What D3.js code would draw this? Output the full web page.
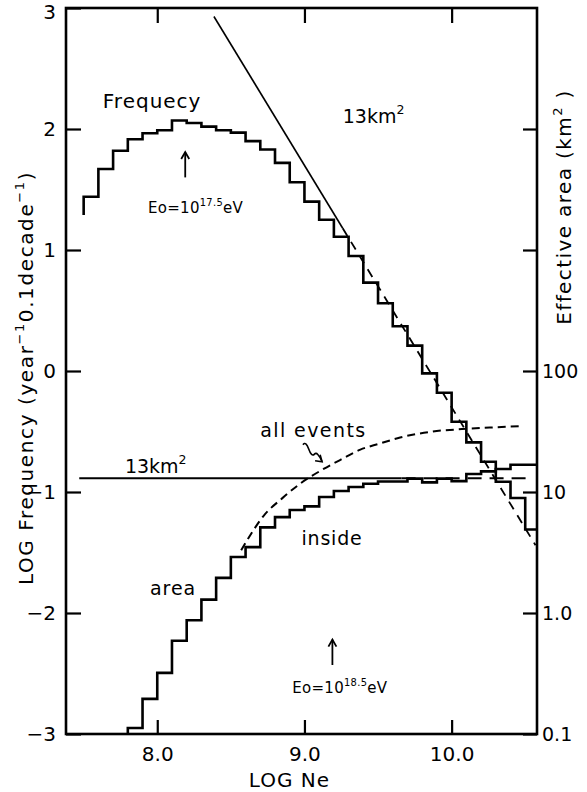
<!DOCTYPE html>
<html>
<head>
<meta charset="utf-8">
<script src="https://cdn.jsdelivr.net/npm/d3@7"></script>
<style>
  html, body { margin: 0; padding: 0; background: #fff; }
  svg { display: block; font-family: "DejaVu Sans", sans-serif; }
  .tick text { font-family: "DejaVu Sans", sans-serif; fill: #000; }
</style>
</head>
<body>
<div id="chart"></div>
<script>
const width = 587;
const height = 792;
const frame = { left: 66, right: 537, top: 8, bottom: 734 };

// LOG Ne bin starts (bin width 0.1) and LOG frequency per bin
const binWidth = 0.1;
const freqBins = [7.5, 7.6, 7.7, 7.8, 7.9, 8.0, 8.1, 8.2, 8.3, 8.4, 8.5, 8.6, 8.7, 8.8, 8.9, 9.0,
  9.1, 9.2, 9.3, 9.4, 9.5, 9.6, 9.7, 9.8, 9.9, 10.0, 10.1, 10.2, 10.3, 10.4, 10.5];
const freqLog = [1.44, 1.67, 1.82, 1.915, 1.965, 1.99, 2.07, 2.05, 2.02, 1.99, 1.97, 1.9, 1.83, 1.72, 1.56, 1.4,
  1.25, 1.11, 0.95, 0.73, 0.56, 0.37, 0.21, -0.02, -0.18, -0.42, -0.59, -0.75, -0.915, -1.05, -1.31];
const freqStartLog = 1.29;

// effective area (km^2) of events inside the array
const areaBins = [7.8, 7.9, 8.0, 8.1, 8.2, 8.3, 8.4, 8.5, 8.6, 8.7, 8.8, 8.9, 9.0, 9.1,
  9.2, 9.3, 9.4, 9.5, 9.6, 9.7, 9.8, 9.9, 10.0, 10.1, 10.2, 10.3, 10.4, 10.5];
const areaKm2 = [0.112, 0.195, 0.32, 0.59, 0.87, 1.29, 1.95, 2.9, 3.5, 5.1, 6.2, 7.1, 7.6, 9.1,
  10.2, 11.0, 11.7, 12.2, 12.2, 12.9, 12.0, 12.9, 12.3, 14.1, 14.8, 15.5, 16.8, 16.8];
const areaStartKm2 = 0.1;

// effective area for all events (dashed curve)
const allEventsNe = [8.57, 8.62, 8.72, 8.85, 8.97, 9.13, 9.25, 9.38, 9.51, 9.65, 9.87, 10.07, 10.3, 10.48];
const allEventsKm2 = [3.3, 4.17, 6.3, 8.9, 11.7, 15.5, 18.6, 22.4, 25.1, 28.2, 31.6, 33.1, 34.3, 35.1];

// power law line for 13 km^2 (solid part, then dashed extrapolation)
const powerSolid = [[8.385, 2.93], [9.26, 1.18]];
const powerDashed = [[9.26, 1.18], [10.57, -1.44]];

// 13 km^2 reference area
const flatArea = 13;
const flatSolidNe = [7.47, 9.66];
const flatDashedNe = [9.66, 10.55];

// axis ticks
const xTicks = [8, 9, 10];
const leftTicks = [-3, -2, -1, 0, 1, 2, 3];
const rightTicks = [0.1, 1, 10, 100, 1000, 10000];
const rightLabels = { 0.1: "0.1", 1: "1.0", 10: "10", 100: "100" };

const svg = d3.select("#chart").append("svg")
  .attr("width", width).attr("height", height)
  .attr("viewBox", `0 0 ${width} ${height}`);

const x = d3.scaleLinear().domain([7.38, 10.58]).range([frame.left, frame.right]);
const yL = d3.scaleLinear().domain([-3, 3]).range([frame.bottom, frame.top]);
const yR = d3.scaleLog().domain([0.1, 1e5]).range([frame.bottom, frame.top]);

svg.append("clipPath").attr("id", "plot-clip")
  .append("rect")
  .attr("x", frame.left).attr("y", frame.top)
  .attr("width", frame.right - frame.left).attr("height", frame.bottom - frame.top);

const plot = svg.append("g").attr("clip-path", "url(#plot-clip)");

function stepPoints(bins, values, startValue) {
  const end = Math.min(bins[bins.length - 1] + binWidth, x.domain()[1]);
  const pts = [[bins[0], startValue]];
  bins.forEach((b, i) => pts.push([b, values[i]]));
  pts.push([end, values[values.length - 1]]);
  return pts;
}

const stepLeft = d3.line().x(d => x(d[0])).y(d => yL(d[1])).curve(d3.curveStepAfter);
const stepRight = d3.line().x(d => x(d[0])).y(d => yR(d[1])).curve(d3.curveStepAfter);
const lineLeft = d3.line().x(d => x(d[0])).y(d => yL(d[1]));
const lineRight = d3.line().x(d => x(d[0])).y(d => yR(d[1]));

// frequency histogram
plot.append("path")
  .attr("d", stepLeft(stepPoints(freqBins, freqLog, freqStartLog)))
  .attr("fill", "none").attr("stroke", "#000").attr("stroke-width", 2.6)
  .attr("stroke-linejoin", "miter");

// area histogram (inside)
plot.append("path")
  .attr("d", stepRight(stepPoints(areaBins, areaKm2, areaStartKm2)))
  .attr("fill", "none").attr("stroke", "#000").attr("stroke-width", 2.6);

// power law
plot.append("path").attr("d", lineLeft(powerSolid))
  .attr("fill", "none").attr("stroke", "#000").attr("stroke-width", 1.6);
plot.append("path").attr("d", lineLeft(powerDashed))
  .attr("fill", "none").attr("stroke", "#000").attr("stroke-width", 1.8)
  .attr("stroke-dasharray", "9 7");

// 13 km^2 flat line
plot.append("path").attr("d", lineRight(flatSolidNe.map(n => [n, flatArea])))
  .attr("fill", "none").attr("stroke", "#000").attr("stroke-width", 2);
plot.append("path").attr("d", lineRight(flatDashedNe.map(n => [n, flatArea])))
  .attr("fill", "none").attr("stroke", "#000").attr("stroke-width", 2)
  .attr("stroke-dasharray", "14 8");

// all events curve
plot.append("path")
  .attr("d", lineRight.curve(d3.curveMonotoneX)(allEventsNe.map((n, i) => [n, allEventsKm2[i]])))
  .attr("fill", "none").attr("stroke", "#000").attr("stroke-width", 2)
  .attr("stroke-dasharray", "8 5");

// axes
const axisLeft = svg.append("g").attr("transform", `translate(${frame.left},0)`)
  .call(d3.axisLeft(yL).tickValues(leftTicks).tickSize(-15).tickPadding(10).tickFormat(d3.format("d")));
const axisRight = svg.append("g").attr("transform", `translate(${frame.right},0)`)
  .call(d3.axisRight(yR).tickValues(rightTicks).tickSize(-14).tickPadding(5)
    .tickFormat(d => rightLabels[d] || ""));
const axisBottom = svg.append("g").attr("transform", `translate(0,${frame.bottom})`)
  .call(d3.axisBottom(x).tickValues(xTicks).tickSize(-14).tickPadding(13).tickFormat(d3.format(".1f")));
const axisTop = svg.append("g").attr("transform", `translate(0,${frame.top})`)
  .call(d3.axisTop(x).tickValues(xTicks).tickSize(-15).tickFormat(""));

[axisLeft, axisRight, axisBottom, axisTop].forEach(g => {
  g.select(".domain").remove();
  g.selectAll(".tick line").attr("stroke", "#000").attr("stroke-width", 2.2);
  g.selectAll(".tick text").attr("font-size", 20);
});
axisRight.selectAll(".tick text").attr("font-size", 19);
// keep the top label inside the page
axisLeft.selectAll(".tick text").filter(d => d === 3).attr("dy", "0.5em");

svg.append("rect")
  .attr("x", frame.left).attr("y", frame.top)
  .attr("width", frame.right - frame.left).attr("height", frame.bottom - frame.top)
  .attr("fill", "none").attr("stroke", "#000").attr("stroke-width", 2.6);

// annotations
function label(ne, v, parts, size, spacing, anchor) {
  const t = svg.append("text")
    .attr("x", x(ne)).attr("y", yL(v))
    .attr("font-size", size).attr("letter-spacing", spacing)
    .attr("text-anchor", anchor || "start");
  parts.forEach(p => {
    const s = t.append("tspan").text(p.text);
    if (p.sup) s.attr("font-size", size * 0.66).attr("dy", -size * 0.45);
    if (p.down) s.attr("dy", size * 0.45);
  });
  return t;
}

function upArrow(ne, v0, v1) {
  const g = svg.append("g").attr("transform", `translate(${x(ne)},${yL(v1)})`);
  g.append("line").attr("x1", 0).attr("y1", 0).attr("x2", 0).attr("y2", yL(v0) - yL(v1))
    .attr("stroke", "#000").attr("stroke-width", 1.8);
  g.append("path").attr("d", "M-4,7 L0,0 L4,7")
    .attr("fill", "none").attr("stroke", "#000").attr("stroke-width", 1.8);
}

label(7.63, 2.17, [{ text: "Frequecy" }], 20, 1);
upArrow(8.19, 1.6, 1.81);
label(8.26, 1.306, [{ text: "Eo=10" }, { text: "17.5", sup: true }, { text: "eV", down: true }], 15, 0.3, "middle");

label(9.26, 2.05, [{ text: "13km" }, { text: "2", sup: true }], 19, 0);
label(7.78, -0.843, [{ text: "13km" }, { text: "2", sup: true }], 19, 0);
label(8.7, -0.545, [{ text: "all events" }], 19, 1.4);
label(8.98, -1.44, [{ text: "inside" }], 19, 0.8);
label(7.95, -1.85, [{ text: "area" }], 19, 1);

upArrow(9.19, -2.43, -2.22);
label(9.24, -2.66, [{ text: "Eo=10" }, { text: "18.5", sup: true }, { text: "eV", down: true }], 15, 0.3, "middle");

// wavy pointer to the all events curve
const squigStart = [x(8.99), yL(-0.61)];
const squigEnd = [x(9.12), yL(-0.75)];
const sx = squigEnd[0] - squigStart[0];
const sy = squigEnd[1] - squigStart[1];
const squig = svg.append("g").attr("transform", `translate(${squigStart[0]},${squigStart[1]})`);
squig.append("path")
  .attr("d", `M0,0 Q${sx * 0.15},${-4} ${sx * 0.3},${sy * 0.25} T${sx * 0.6},${sy * 0.55} T${sx},${sy}`)
  .attr("fill", "none").attr("stroke", "#000").attr("stroke-width", 1.6);
squig.append("path")
  .attr("d", `M${sx - 7},${sy - 1} L${sx},${sy} L${sx - 2},${sy - 7}`)
  .attr("fill", "none").attr("stroke", "#000").attr("stroke-width", 1.6);

// axis titles
svg.append("text")
  .attr("x", (frame.left + frame.right) / 2 - 12).attr("y", 787)
  .attr("text-anchor", "middle").attr("font-size", 20).attr("letter-spacing", 1)
  .text("LOG Ne");

const leftTitle = svg.append("text")
  .attr("transform", `translate(33,378) rotate(-90)`)
  .attr("text-anchor", "middle").attr("font-size", 20).attr("letter-spacing", 1.6);
leftTitle.append("tspan").text("LOG Frequency  (year");
leftTitle.append("tspan").text("−1").attr("font-size", 13).attr("dy", -9);
leftTitle.append("tspan").text("0.1decade").attr("dy", 9);
leftTitle.append("tspan").text("−1").attr("font-size", 13).attr("dy", -9);
leftTitle.append("tspan").text(")").attr("dy", 9);

const rightTitle = svg.append("text")
  .attr("transform", `translate(571,207) rotate(-90)`)
  .attr("text-anchor", "middle").attr("font-size", 20).attr("letter-spacing", 1.4);
rightTitle.append("tspan").text("Effective area (km");
rightTitle.append("tspan").text("2").attr("font-size", 13).attr("dy", -9);
rightTitle.append("tspan").text(" )").attr("dy", 9);
</script>
</body>
</html>
